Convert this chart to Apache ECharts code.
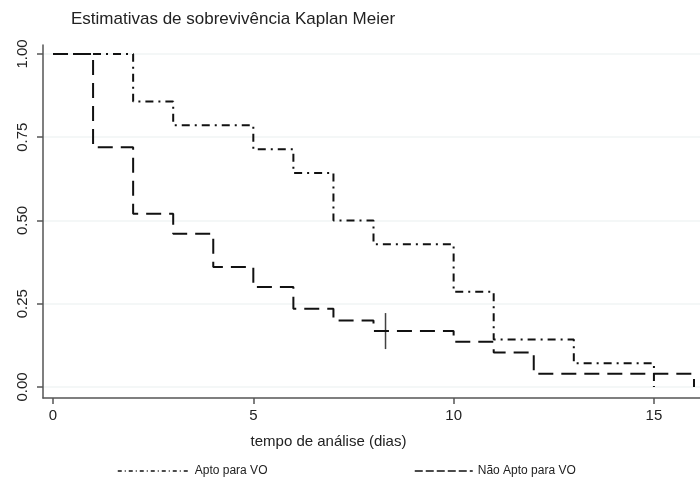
<!DOCTYPE html>
<html><head><meta charset="utf-8">
<script src="https://cdn.jsdelivr.net/npm/echarts@6/dist/echarts.min.js"></script>
<style>html,body{margin:0;padding:0;background:#fff}#c{width:700px;height:484px}</style>
</head><body><div id="c"></div>
<script>
const titleText = "Estimativas de sobrevivência Kaplan Meier";
const xTitle = "tempo de análise (dias)";
const seriesNames = ["Apto para VO", "Não Apto para VO"];
const xTicks = [0, 5, 10, 15];
const yTicks = [0, 0.25, 0.5, 0.75, 1];
const aptoTimes = [0, 2, 3, 5, 6, 7, 8, 10, 11, 13, 15];
const aptoSurv = [1, 0.857, 0.786, 0.714, 0.643, 0.5, 0.429, 0.286, 0.143, 0.071, 0];
const naoTimes = [0, 1, 2, 3, 4, 5, 6, 7, 8, 10, 11, 12, 16];
const naoSurv = [1, 0.72, 0.52, 0.46, 0.36, 0.30, 0.235, 0.20, 0.168, 0.136, 0.104, 0.04, 0];
const censorTimes = [8.3];
const censorSurv = [0.168];

const chart = echarts.init(document.getElementById('c'), null, {renderer: 'canvas'});
const font = 'Liberation Sans, Arial, sans-serif';
chart.setOption({
  animation: false,
  backgroundColor: '#fff',
  title: {
    text: titleText, left: 66, top: 6,
    textStyle: {fontFamily: font, fontSize: 17, fontWeight: 'normal', color: '#222'}
  },
  grid: {left: 43, right: 0, top: 45, bottom: 86, containLabel: false},
  legend: [
    {data: [seriesNames[0]], left: 112, top: 460, itemWidth: 72, itemHeight: 10,
     itemStyle: {opacity: 0}, lineStyle: {width: 1.5, type: [4, 3, 1, 3]},
     textStyle: {fontFamily: font, fontSize: 12, color: '#222'}},
    {data: [seriesNames[1]], left: 409, top: 460, itemWidth: 58, itemHeight: 10,
     itemStyle: {opacity: 0}, lineStyle: {width: 1.5, type: [8, 3]},
     textStyle: {fontFamily: font, fontSize: 12, color: '#222'}}
  ],
  xAxis: {
    type: 'value', min: -0.25, max: 16.15,
    name: xTitle, nameLocation: 'middle', nameGap: 36,
    nameTextStyle: {fontFamily: font, fontSize: 15, color: '#222', padding: [0, 86, 0, 0]},
    axisLine: {show: true, onZero: false, lineStyle: {color: '#555', width: 1.5}},
    axisTick: {show: true, customValues: xTicks, length: 6, lineStyle: {color: '#555', width: 1.5}},
    axisLabel: {customValues: xTicks, fontFamily: font, fontSize: 15, color: '#222', margin: 10},
    splitLine: {show: false}
  },
  yAxis: {
    type: 'value', min: -0.033, max: 1.027,
    axisLine: {show: true, onZero: false, lineStyle: {color: '#555', width: 1.5}},
    axisTick: {show: true, customValues: yTicks, length: 6, lineStyle: {color: '#555', width: 1.5}},
    axisLabel: {customValues: yTicks, rotate: 90, fontFamily: font, fontSize: 15, color: '#222', margin: 13,
      formatter: v => v.toFixed(2)},
    splitLine: {show: true, lineStyle: {color: '#f0f4f4', width: 1.5}}
  },
  series: [
    {name: seriesNames[0], type: 'line', step: 'end', symbol: 'none',
     data: aptoTimes.map((t, i) => [t, aptoSurv[i]]),
     lineStyle: {color: '#111', width: 2, type: [8, 5, 2, 5]}, itemStyle: {color: '#111'}, z: 3},
    {name: seriesNames[1], type: 'line', step: 'end', symbol: 'none',
     data: naoTimes.map((t, i) => [t, naoSurv[i]]),
     lineStyle: {color: '#111', width: 2, type: [15, 8]}, itemStyle: {color: '#111'}, z: 2},
    {name: 'censor', type: 'scatter', symbol: 'rect', symbolSize: [1.5, 36],
     data: censorTimes.map((t, i) => [t, censorSurv[i]]),
     itemStyle: {color: '#111'}, z: 4}
  ]
});
</script></body></html>
